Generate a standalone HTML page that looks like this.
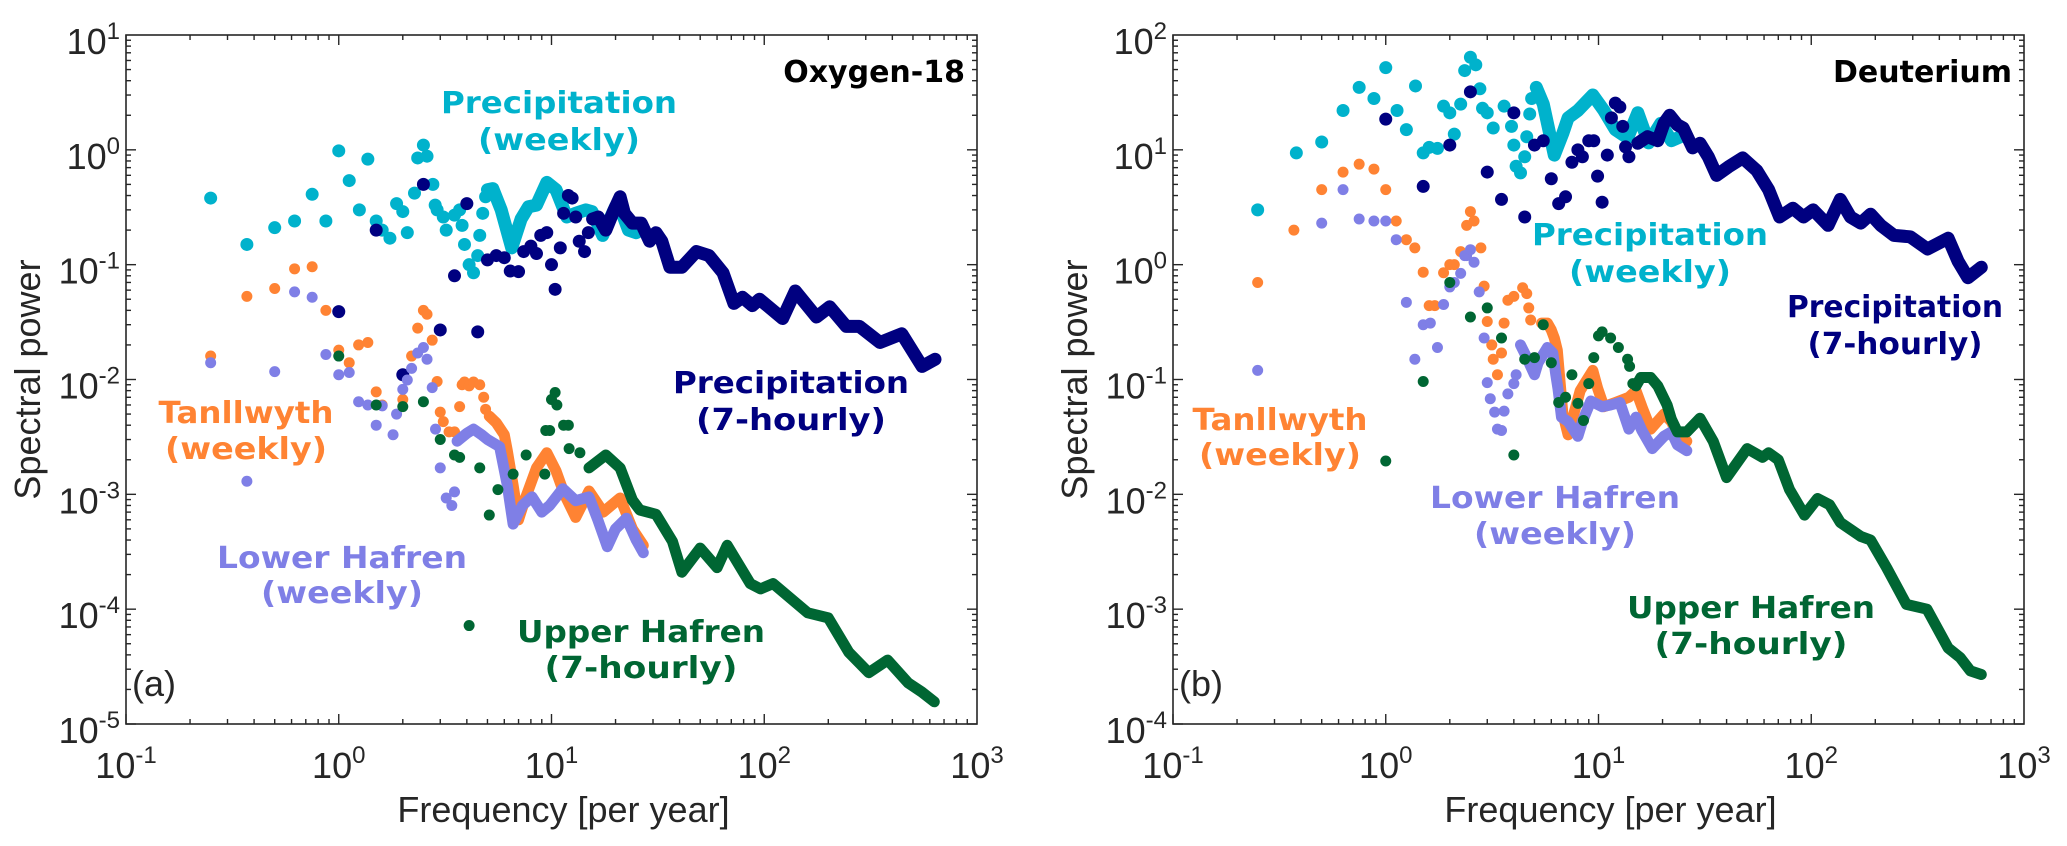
<!DOCTYPE html>
<html>
<head>
<meta charset="utf-8">
<style>
  html,body{margin:0;padding:0;background:#fff;}
  svg{display:block;}
  .tick{font-family:"Liberation Sans",Arial,sans-serif;font-size:36px;fill:#262626;}
  .lab{font-family:"DejaVu Sans","Liberation Sans",sans-serif;font-weight:bold;font-size:30px;}
</style>
</head>
<body>
<svg id="chart" width="2067" height="846" viewBox="0 0 2067 846" xmlns="http://www.w3.org/2000/svg">
  <rect x="0" y="0" width="2067" height="846" fill="#fff"/>
</svg>
<script>
// ---------- axis tick data ----------
const xTickExp = [-1, 0, 1, 2, 3];
const aYTickExp = [1, 0, -1, -2, -3, -4, -5];
const bYTickExp = [2, 1, 0, -1, -2, -3, -4];

// ---------- Panel (a) Oxygen-18 ----------
const aPrecipWeeklyDotF = [0.25,0.37,0.5,0.62,0.75,0.87,1,1.12,1.25,1.37,1.5,1.6,1.74,1.87,2,2.1,2.27,2.35,2.5,2.6,2.77,2.84,2.9,3.1,3.2,3.5,3.7,3.8,3.9,4.1,4.3,4.5,4.6,4.75,4.9];
const aPrecipWeeklyDotP = [0.38,0.15,0.21,0.24,0.41,0.24,0.98,0.54,0.3,0.83,0.24,0.2,0.17,0.34,0.29,0.19,0.42,0.85,1.1,0.88,0.5,0.33,0.3,0.26,0.2,0.27,0.3,0.22,0.15,0.1,0.085,0.12,0.18,0.28,0.39];
const aPrecipWeeklyCurveF = [5.0,5.3,5.8,6.5,7.2,7.8,8.5,9.5,10.5,11.8,13,14.5,15.5,17.4,19,20,21.5,23,25];
const aPrecipWeeklyCurveP = [0.45,0.46,0.3,0.14,0.25,0.32,0.33,0.52,0.45,0.26,0.28,0.3,0.29,0.18,0.26,0.32,0.28,0.2,0.19];

const aPrecipHourlyDotF = [1,1.5,2,2.5,3,3.5,4,4.5,5,5.5,6,6.4,7,7.4,8,8.5,8.9,9.5,10,10.4,11,11.4,12,12.5,13,13.5,14.3,14.9];
const aPrecipHourlyDotP = [0.039,0.2,0.011,0.5,0.027,0.08,0.34,0.026,0.11,0.12,0.115,0.088,0.087,0.13,0.145,0.125,0.18,0.19,0.1,0.061,0.14,0.28,0.4,0.38,0.26,0.16,0.13,0.19];
const aPrecipHourlyCurveF = [15.6,16.6,18,19.7,21,22,24,26.4,28.9,31,33,36,41,48,55,64,72,79,88,95,122,140,176,203,243,280,350,443,552,635];
const aPrecipHourlyCurveP = [0.25,0.26,0.2,0.3,0.39,0.28,0.23,0.23,0.16,0.19,0.16,0.095,0.095,0.13,0.12,0.085,0.046,0.052,0.044,0.05,0.034,0.059,0.035,0.043,0.029,0.029,0.021,0.025,0.013,0.015];

const aTanDotF = [0.25,0.37,0.5,0.62,0.75,0.87,1,1.12,1.24,1.37,1.5,1.6,2,2.2,2.35,2.5,2.6,2.75,2.9,3,3.1,3.3,3.5,3.7,3.8,3.9,4.1,4.3,4.6,4.8,4.9];
const aTanDotP = [0.016,0.053,0.062,0.092,0.096,0.04,0.018,0.014,0.02,0.021,0.0078,0.006,0.0067,0.016,0.028,0.04,0.037,0.022,0.0096,0.0052,0.0043,0.0035,0.0035,0.0058,0.009,0.0095,0.0088,0.0095,0.009,0.007,0.0055];
const aTanCurveF = [5.1,5.5,6.0,6.2,6.6,7,7.5,8.5,9.5,10.5,11.5,13,15,17.5,21,24,27];
const aTanCurveP = [0.0048,0.0042,0.0033,0.0024,0.0012,0.0006,0.0009,0.0017,0.0023,0.0016,0.001,0.00063,0.00107,0.0007,0.00093,0.0005,0.00036];

const aLowerDotF = [0.25,0.37,0.5,0.62,0.75,0.87,1,1.12,1.24,1.37,1.5,1.6,1.8,1.87,2,2.1,2.2,2.35,2.5,2.6,2.75,2.85,3,3.2,3.4,3.5];
const aLowerDotP = [0.014,0.0013,0.0117,0.058,0.052,0.0165,0.011,0.0115,0.0064,0.006,0.004,0.0059,0.0033,0.005,0.0082,0.0099,0.0125,0.017,0.019,0.015,0.0085,0.0037,0.0017,0.00093,0.0008,0.00105];
const aLowerCurveF = [3.6,4.0,4.3,4.7,5,5.7,6.2,6.6,7.3,8.1,9,9.8,11.3,13,15,16.5,18.3,20,22.5,25,27];
const aLowerCurveP = [0.0029,0.0034,0.0037,0.0033,0.003,0.0026,0.0012,0.00055,0.0008,0.00095,0.0007,0.0008,0.00112,0.00088,0.00095,0.0006,0.00035,0.0005,0.00062,0.0004,0.00031];

const aUpperDotF = [1,1.5,2,2.5,3,3.5,3.7,4.1,4.6,5.1,5.6,6.6,7.6,9.3,9.4,9.8,10,10.4,10.6,11.4,12,12.1,13.6];
const aUpperDotP = [0.016,0.006,0.0058,0.0064,0.003,0.0022,0.0021,0.000072,0.0017,0.00066,0.0011,0.0015,0.0022,0.0015,0.0036,0.0036,0.0067,0.0077,0.006,0.004,0.004,0.0025,0.0023];
const aUpperCurveF = [15,18,21,24,26,31,37,41,50,60,67,86,96,110,160,200,250,310,380,475,550,630];
const aUpperCurveP = [0.0017,0.0022,0.0017,0.00089,0.00073,0.00067,0.00039,0.00021,0.00034,0.00023,0.00036,0.000167,0.00015,0.000167,0.000093,0.000084,0.000042,0.000028,0.000036,0.0000228,0.000019,0.0000156];

// ---------- Panel (b) Deuterium ----------
const bPrecipWeeklyDotF = [0.25,0.38,0.5,0.63,0.75,0.88,1,1.13,1.25,1.38,1.5,1.6,1.75,1.87,2,2.1,2.25,2.35,2.5,2.65,2.77,2.85,3,3.2,3.6,3.9,4,4.1,4.3,4.5,4.6,4.75,4.85];
const bPrecipWeeklyDotP = [3.0,9.4,11.7,22,35,28,52,22,15,36,9.4,10.5,10.3,24,21,13.7,25,49,64,55,34,23,21,15.5,24,16,11,7.2,6.3,8.7,13,20.5,28];
const bPrecipWeeklyCurveF = [5.1,5.5,6.2,6.8,7.2,8,9.4,10.6,12,13.7,15.3,17.2,19.6,22,24.3];
const bPrecipWeeklyCurveP = [35,25,9,14,19,22,30,22,15,12.7,21,11.5,17,12,13];

const bPrecipHourlyDotF = [1,1.5,2,2.5,3,3.5,4,4.5,5,5.5,6,6.5,7,7.5,8,8.4,9,9.5,9.9,10.4,11,11.5,12,12.6,13,13.4,13.9];
const bPrecipHourlyDotP = [18.5,4.8,11,32,6.4,3.7,21,2.6,11,12,5.6,3.4,3.9,7.8,10,8.7,12,12,5.9,3.5,9,19,25.5,23.6,16,10.6,8.7];
const bPrecipHourlyCurveF = [15.3,17,19,20.3,21.6,23.5,25,27.7,30,32.8,35.9,40.8,47.6,55.5,63,71,82,92,102,120,137,153,171,190,212,245,292,352,440,490,545,630];
const bPrecipHourlyCurveP = [11.4,13,12,17,20,16.5,15.5,10.4,11.4,8.7,6,7.1,8.5,6.6,4.5,2.6,3.1,2.6,3,2.2,3.7,2.6,2.3,2.75,2.2,1.8,1.75,1.37,1.7,1.07,0.77,0.95];

const bTanDotF = [0.25,0.37,0.5,0.63,0.75,0.88,1,1.12,1.25,1.37,1.5,1.6,1.7,1.87,2,2.1,2.25,2.4,2.5,2.6,2.8,2.9,3,3.15,3.2,3.35,3.5,3.6,3.75,4,4.4,4.6,4.7,4.8];
const bTanDotP = [0.7,2.0,4.5,6.4,7.5,6.8,4.5,2.4,1.65,1.4,0.86,0.44,0.44,0.85,1.0,1.0,1.3,2.2,2.9,2.4,1.4,0.65,0.32,0.2,0.15,0.11,0.17,0.31,0.49,0.53,0.63,0.56,0.42,0.33];
const bTanCurveF = [5.4,5.75,6,6.2,6.4,6.5,6.8,7.2,8.2,9.4,9.9,10.6,12,13.9,15,16,17.6,20.3,22,23.2,26];
const bTanCurveP = [0.31,0.31,0.27,0.23,0.18,0.13,0.05,0.033,0.08,0.12,0.084,0.058,0.063,0.07,0.08,0.058,0.037,0.05,0.043,0.035,0.029];

const bLowerDotF = [0.25,0.5,0.63,0.75,0.88,1,1.12,1.25,1.37,1.5,1.62,1.75,1.87,2,2.1,2.25,2.35,2.4,2.5,2.6,2.75,2.9,3,3.1,3.25,3.35,3.5,3.6,3.75,4,4.1];
const bLowerDotP = [0.12,2.3,4.5,2.5,2.4,2.4,1.65,0.47,0.15,0.3,0.31,0.19,0.45,0.64,0.7,0.84,1.2,1.2,1.35,1.05,0.58,0.23,0.094,0.068,0.052,0.037,0.036,0.053,0.075,0.092,0.11];
const bLowerCurveF = [4.3,4.6,4.8,5,5.2,5.75,6.1,6.3,6.45,6.7,7.2,8,8.4,9.2,10.4,11.4,12.6,13.9,15,16,17.9,20.3,22,23.5,26];
const bLowerCurveP = [0.2,0.155,0.13,0.11,0.14,0.19,0.17,0.11,0.083,0.047,0.043,0.032,0.043,0.065,0.058,0.06,0.063,0.037,0.047,0.036,0.025,0.032,0.035,0.027,0.024];

const bUpperDotF = [1,1.5,2,2.5,3,3.5,4,4.5,5,5.5,6,6.5,7,7.5,8,8.5,9,9.5,10,10.4,11.4,12.4,13.7,14,14.5];
const bUpperDotP = [0.0195,0.096,0.7,0.35,0.42,0.23,0.022,0.15,0.155,0.3,0.14,0.063,0.07,0.11,0.062,0.044,0.092,0.155,0.24,0.26,0.23,0.19,0.15,0.13,0.092];
const bUpperCurveF = [15,15.8,17.6,19,21,22,23.5,26,30,34.6,40,50,59,63,70,79,82,93,107,122,137,171,190,226,280,350,440,500,560,630];
const bUpperCurveP = [0.088,0.104,0.104,0.088,0.06,0.045,0.035,0.035,0.046,0.029,0.014,0.025,0.021,0.023,0.02,0.011,0.0098,0.0066,0.0092,0.0081,0.0057,0.0043,0.004,0.0023,0.0011,0.001,0.00046,0.00038,0.00029,0.00027];

// ---------- drawing ----------
const NS = 'http://www.w3.org/2000/svg';
const svg = document.getElementById('chart');
const C = {cyan:'#00b2cc', navy:'#000080', orange:'#ff8333', lav:'#7f7fe6', green:'#006633'};

function mk(tag, attrs, parent){
  const e = document.createElementNS(NS, tag);
  for (const k in attrs) e.setAttribute(k, attrs[k]);
  (parent||svg).appendChild(e);
  return e;
}

function makePanel(L, R, T, B, xMinExp, xMaxExp, yMaxExp, yMinExp){
  return {
    L, R, T, B,
    x: f => L + (Math.log10(f) - xMinExp) / (xMaxExp - xMinExp) * (R - L),
    y: p => T + (yMaxExp - Math.log10(p)) / (yMaxExp - yMinExp) * (B - T),
    xMinExp, xMaxExp, yMaxExp, yMinExp
  };
}

function drawAxes(P, yExps, name){
  const g = mk('g', {});
  
  
  const frame = mk('rect', {x:P.L, y:P.T, width:P.R-P.L, height:P.B-P.T, fill:'none', stroke:'#262626', 'stroke-width':1.6}, g);
  
  
  for (let e = P.xMinExp; e < P.xMaxExp; e++){
    for (let m = 1; m <= 9; m++){
      const xx = P.x(m * Math.pow(10, e));
      const len = m === 1 ? 10 : 5;
      mk('line', {x1:xx, y1:P.B, x2:xx, y2:P.B-len, stroke:'#262626', 'stroke-width':1.4}, g);
      mk('line', {x1:xx, y1:P.T, x2:xx, y2:P.T+len, stroke:'#262626', 'stroke-width':1.4}, g);
    }
  }
  for (let e = P.yMinExp; e < P.yMaxExp; e++){
    for (let m = 1; m <= 9; m++){
      const yy = P.y(m * Math.pow(10, e));
      const len = m === 1 ? 10 : 5;
      mk('line', {x1:P.L, y1:yy, x2:P.L+len, y2:yy, stroke:'#262626', 'stroke-width':1.4}, g);
      mk('line', {x1:P.R, y1:yy, x2:P.R-len, y2:yy, stroke:'#262626', 'stroke-width':1.4}, g);
    }
  }
  xTickExp.forEach(e => {
    const t = mk('text', {x:P.x(Math.pow(10,e)), y:P.B+54, 'text-anchor':'middle', class:'tick'}, g);
    
    
    t.innerHTML = '10<tspan dy="-15" font-size="24">' + e + '</tspan>';
  });
  yExps.forEach(e => {
    const t = mk('text', {x:P.L-6, y:P.y(Math.pow(10,e))+19, 'text-anchor':'end', class:'tick'}, g);
    
    
    t.innerHTML = '10<tspan dy="-15" font-size="24">' + e + '</tspan>';
  });
  const xt = mk('text', {x:(P.L+P.R)/2+12, y:822, 'text-anchor':'middle', class:'tick', 'font-size':'38'}, g);
  
  
  xt.textContent = 'Frequency [per year]';
  const yx = P.L - 86, yy = (P.T+P.B)/2;
  const yt = mk('text', {x:yx, y:yy, 'text-anchor':'middle', class:'tick', 'font-size':'38', transform:'rotate(-90 '+yx+' '+yy+')'}, g);
  
  
  yt.textContent = 'Spectral power';
}

function drawDots(P, F, Pw, color, r, name){
  const g = mk('g', {fill:color});
  
  
  F.forEach((f, i) => {
    const c = mk('circle', {cx:P.x(f), cy:P.y(Pw[i]), r:r}, g);
    
    
  });
}

function drawCurve(P, F, Pw, color, w, name){
  const pts = F.map((f, i) => P.x(f).toFixed(1) + ',' + P.y(Pw[i]).toFixed(1)).join(' ');
  const pl = mk('polyline', {points:pts, fill:'none', stroke:color, 'stroke-width':w, 'stroke-linejoin':'round', 'stroke-linecap':'round'});
  
  
}

function label(x, y1, y2, l1, l2, color, w1, w2, name){
  const g = mk('g', {fill:color, class:'lab', 'text-anchor':'middle'});
  
  
  const a = mk('text', {x:x, y:y1, textLength:w1, lengthAdjust:'spacingAndGlyphs'}, g);
  a.textContent = l1;
  if (l2){
    const b = mk('text', {x:x, y:y2, textLength:w2, lengthAdjust:'spacingAndGlyphs'}, g);
    b.textContent = l2;
  }
}

function plain(x, y, txt, opts, name){
  const t = mk('text', opts);
  t.setAttribute('x', x); t.setAttribute('y', y);
  
  
  t.textContent = txt;
}

// Panel a
const PA = makePanel(126, 977, 35, 724, -1, 3, 1, -5);
drawAxes(PA, aYTickExp, 'panel-a');
drawDots(PA, aPrecipWeeklyDotF, aPrecipWeeklyDotP, C.cyan, 6.5, 'a-precip-weekly-dots');
drawCurve(PA, aPrecipWeeklyCurveF, aPrecipWeeklyCurveP, C.cyan, 13, 'a-precip-weekly-curve');
drawDots(PA, aPrecipHourlyDotF, aPrecipHourlyDotP, C.navy, 6.5, 'a-precip-hourly-dots');
drawCurve(PA, aPrecipHourlyCurveF, aPrecipHourlyCurveP, C.navy, 13, 'a-precip-hourly-curve');
drawDots(PA, aTanDotF, aTanDotP, C.orange, 5.5, 'a-tanllwyth-dots');
drawCurve(PA, aTanCurveF, aTanCurveP, C.orange, 11, 'a-tanllwyth-curve');
drawDots(PA, aLowerDotF, aLowerDotP, C.lav, 5.5, 'a-lower-hafren-dots');
drawCurve(PA, aLowerCurveF, aLowerCurveP, C.lav, 11, 'a-lower-hafren-curve');
drawDots(PA, aUpperDotF, aUpperDotP, C.green, 5.5, 'a-upper-hafren-dots');
drawCurve(PA, aUpperCurveF, aUpperCurveP, C.green, 11, 'a-upper-hafren-curve');

// Panel b
const PB = makePanel(1173, 2024, 35, 724, -1, 3, 2, -4);
drawAxes(PB, bYTickExp, 'panel-b');
drawDots(PB, bPrecipWeeklyDotF, bPrecipWeeklyDotP, C.cyan, 6.5, 'b-precip-weekly-dots');
drawCurve(PB, bPrecipWeeklyCurveF, bPrecipWeeklyCurveP, C.cyan, 13, 'b-precip-weekly-curve');
drawDots(PB, bPrecipHourlyDotF, bPrecipHourlyDotP, C.navy, 6.5, 'b-precip-hourly-dots');
drawCurve(PB, bPrecipHourlyCurveF, bPrecipHourlyCurveP, C.navy, 13, 'b-precip-hourly-curve');
drawDots(PB, bTanDotF, bTanDotP, C.orange, 5.5, 'b-tanllwyth-dots');
drawCurve(PB, bTanCurveF, bTanCurveP, C.orange, 11, 'b-tanllwyth-curve');
drawDots(PB, bLowerDotF, bLowerDotP, C.lav, 5.5, 'b-lower-hafren-dots');
drawCurve(PB, bLowerCurveF, bLowerCurveP, C.lav, 11, 'b-lower-hafren-curve');
drawDots(PB, bUpperDotF, bUpperDotP, C.green, 5.5, 'b-upper-hafren-dots');
drawCurve(PB, bUpperCurveF, bUpperCurveP, C.green, 11, 'b-upper-hafren-curve');

// Labels panel a
plain(965, 82, 'Oxygen-18', {'text-anchor':'end', class:'lab', fill:'#000', 'font-size':'29'}, 'panel-a-title');
plain(132, 696, '(a)', {class:'tick', 'font-size':'50', fill:'#000'}, 'panel-a-letter');
label(559, 113, 150, 'Precipitation', '(weekly)', C.cyan, 236, 162, 'a-label-precip-weekly');
label(791, 393, 430, 'Precipitation', '(7-hourly)', C.navy, 236, 190, 'a-label-precip-hourly');
label(246, 423, 459, 'Tanllwyth', '(weekly)', C.orange, 175, 162, 'a-label-tanllwyth');
label(342, 568, 603, 'Lower Hafren', '(weekly)', C.lav, 250, 162, 'a-label-lower-hafren');
label(641, 642, 678, 'Upper Hafren', '(7-hourly)', C.green, 248, 193, 'a-label-upper-hafren');

// Labels panel b
plain(2012, 82, 'Deuterium', {'text-anchor':'end', class:'lab', fill:'#000', 'font-size':'29'}, 'panel-b-title');
plain(1179, 696, '(b)', {class:'tick', 'font-size':'50', fill:'#000'}, 'panel-b-letter');
label(1650, 245, 282, 'Precipitation', '(weekly)', C.cyan, 236, 162, 'b-label-precip-weekly');
label(1895, 317, 354, 'Precipitation', '(7-hourly)', C.navy, 216, 175, 'b-label-precip-hourly');
label(1280, 430, 465, 'Tanllwyth', '(weekly)', C.orange, 175, 162, 'b-label-tanllwyth');
label(1555, 508, 544, 'Lower Hafren', '(weekly)', C.lav, 250, 162, 'b-label-lower-hafren');
label(1751, 618, 654, 'Upper Hafren', '(7-hourly)', C.green, 248, 193, 'b-label-upper-hafren');
</script>
</body>
</html>
